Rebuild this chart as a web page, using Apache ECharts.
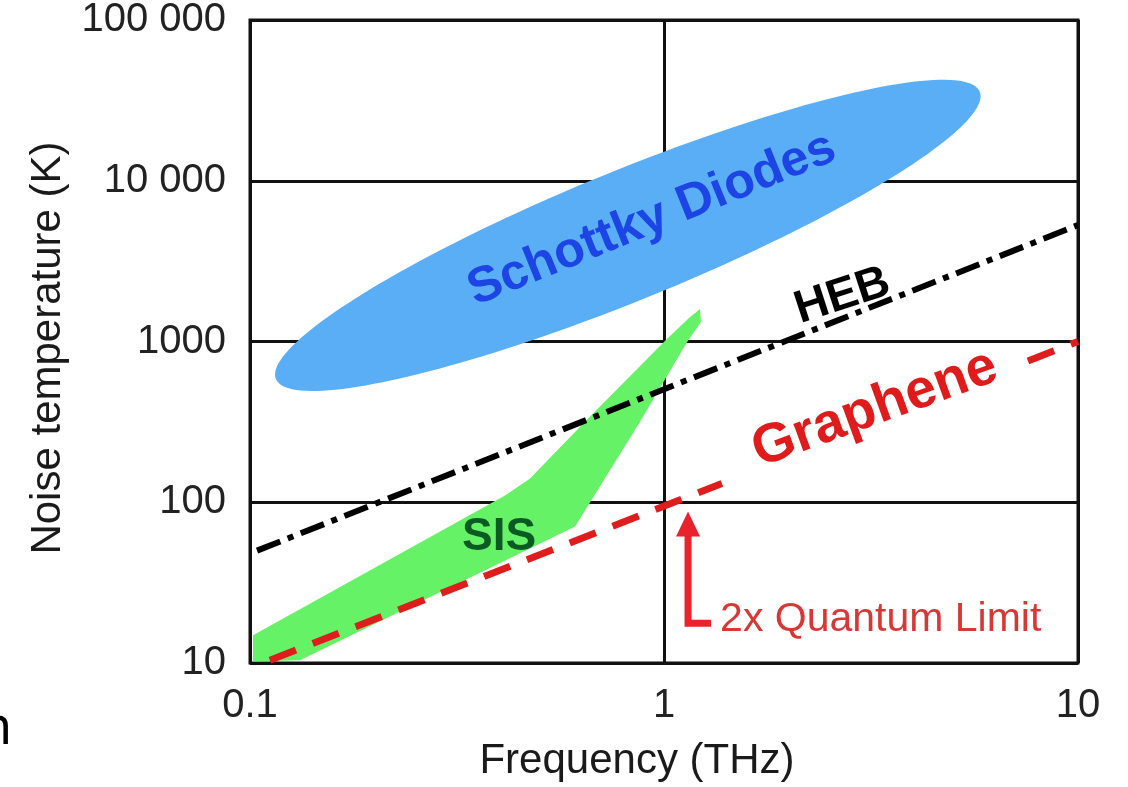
<!DOCTYPE html>
<html>
<head>
<meta charset="utf-8">
<script src="https://cdn.jsdelivr.net/npm/echarts@6/dist/echarts.min.js"></script>
<style>
html,body{margin:0;padding:0;background:#fff;}
#chart{width:1128px;height:787px;}
</style>
</head>
<body>
<div id="chart"></div>
<script>
// ---- data ----
const xTickLabels = ['0.1', '1', '10'];
const yTickLabels = ['10', '100', '1000', '10 000', '100 000'];

// HEB (dash-dot black line)
const hebFreq = [0.104, 10];
const hebTemp = [50, 5300];

// Graphene, 2x quantum limit (red dashed line, interrupted by its label)
const grapheneFreq = [0.1117, 1.38, 3, 7.57, 10];
const grapheneTemp = [10.4, 131, '-', 757, 1000];

// SIS region outline
const sisFreq = [0.1017, 0.413, 0.474, 0.662, 1.016, 1.156, 1.222, 1.228, 1.137, 0.875, 0.610, 0.132, 0.1017];
const sisTemp = [14.9, 110, 140, 340, 1037, 1419, 1591, 1321, 993, 317, 70.7, 10.4, 10.2];

// Schottky diodes ellipse: two ends of the long axis, then a point at the end of the short axis
const schottkyFreq = [0.1155, 5.79, 0.714];
const schottkyTemp = [585, 35770, 10800];

// 2x quantum limit arrow: foot end, corner, tip
const arrowFreq = [1.299, 1.143, 1.143];
const arrowTemp = [17.7, 17.7, 87.6];

// text annotations: label, frequency, temperature
const labelTexts = ['Schottky Diodes', 'HEB', 'Graphene', 'SIS', '2x Quantum Limit'];
const labelFreq = [0.935, 2.70, 3.233, 0.3995, 1.366];
const labelTemp = [5750, 1914, 381, 60.4, 18.6];

// ---- styling ----
const FONT = '"Liberation Sans", Arial, Helvetica, sans-serif';
const labelStyles = [
  {fill: '#1d44e4', fontSize: 50, fontWeight: 'bold', rot: 22, align: 'center'},
  {fill: '#000000', fontSize: 46, fontWeight: 'bold', rot: 18, align: 'center'},
  {fill: '#e01b1b', fontSize: 55, fontWeight: 'bold', rot: 20, align: 'center'},
  {fill: '#0b5a24', fontSize: 46, fontWeight: 'bold', rot: 0, align: 'center'},
  {fill: '#d93636', fontSize: 41, fontWeight: 'normal', rot: 0, align: 'left'}
];

const chart = echarts.init(document.getElementById('chart'), null, {renderer: 'canvas'});

function yLabel(v) {
  const i = Math.round(Math.log10(v)) - 1;
  return yTickLabels[i] !== undefined ? yTickLabels[i] : '';
}
function xLabel(v) {
  const i = Math.round(Math.log10(v)) + 1;
  return xTickLabels[i] !== undefined ? xTickLabels[i] : '';
}

const option = {
  animation: false,
  backgroundColor: '#ffffff',
  grid: {
    left: 250, right: 50, top: 20, bottom: 122,
    show: true, borderColor: '#111', borderWidth: 3, backgroundColor: 'transparent'
  },
  xAxis: {
    type: 'log', logBase: 10, min: 0.1, max: 10,
    name: 'Frequency (THz)', nameLocation: 'middle', nameGap: 77,
    nameTextStyle: {fontSize: 42, fontFamily: FONT, color: '#1a1a1a', padding: [0, 54, 0, 0]},
    axisLine: {show: false},
    axisTick: {show: false},
    axisLabel: {formatter: xLabel, fontSize: 40, fontFamily: FONT, color: '#222', margin: 23},
    splitLine: {show: true, lineStyle: {color: '#111', width: 3}}
  },
  yAxis: {
    type: 'log', logBase: 10, min: 10, max: 100000,
    name: 'Noise temperature (K)', nameLocation: 'middle', nameGap: 181,
    nameTextStyle: {fontSize: 42, fontFamily: FONT, color: '#1a1a1a', padding: [0, 13, 0, 0]},
    axisLine: {show: false},
    axisTick: {show: false},
    axisLabel: {formatter: yLabel, fontSize: 40, fontFamily: FONT, color: '#222', margin: 24},
    splitLine: {show: true, lineStyle: {color: '#111', width: 3}}
  },
  graphic: [
    {type: 'text', x: -20, y: 729, style: {text: 'n', fontSize: 52, fontFamily: '"Noto Sans", sans-serif', fill: '#000', verticalAlign: 'middle'}}
  ],
  series: [
    {
      name: 'Schottky Diodes', type: 'custom', coordinateSystem: 'cartesian2d',
      data: schottkyFreq.map((f, i) => [f, schottkyTemp[i]]),
      renderItem: function (params, api) {
        if (params.dataIndex !== 0) return null;
        const p1 = api.coord([schottkyFreq[0], schottkyTemp[0]]);
        const p2 = api.coord([schottkyFreq[1], schottkyTemp[1]]);
        const p3 = api.coord([schottkyFreq[2], schottkyTemp[2]]);
        const cx = (p1[0] + p2[0]) / 2, cy = (p1[1] + p2[1]) / 2;
        const ang = Math.atan2(p2[1] - p1[1], p2[0] - p1[0]);
        const a = Math.hypot(p2[0] - p1[0], p2[1] - p1[1]) / 2;
        const b = Math.abs(-(p3[0] - cx) * Math.sin(ang) + (p3[1] - cy) * Math.cos(ang));
        const pts = [];
        const n = 180;
        for (let k = 0; k < n; k++) {
          const t = k / n * 2 * Math.PI;
          const ex = a * Math.cos(t), ey = b * Math.sin(t);
          pts.push([cx + ex * Math.cos(ang) - ey * Math.sin(ang), cy + ex * Math.sin(ang) + ey * Math.cos(ang)]);
        }
        return {type: 'polygon', shape: {points: pts}, style: {fill: '#5aaef5'}};
      }
    },
    {
      name: 'SIS', type: 'custom', coordinateSystem: 'cartesian2d',
      data: sisFreq.map((f, i) => [f, sisTemp[i]]),
      renderItem: function (params, api) {
        if (params.dataIndex !== 0) return null;
        const pts = sisFreq.map((f, i) => api.coord([f, sisTemp[i]]));
        return {type: 'polygon', shape: {points: pts}, style: {fill: '#66f266'}};
      }
    },
    {
      name: 'HEB', type: 'line', showSymbol: false, symbol: 'none',
      data: hebFreq.map((f, i) => [f, hebTemp[i]]),
      lineStyle: {color: '#000', width: 6, type: [25, 8, 6, 8], cap: 'butt'}
    },
    {
      name: 'Graphene', type: 'line', showSymbol: false, symbol: 'none', connectNulls: false,
      data: grapheneFreq.map((f, i) => [f, grapheneTemp[i]]),
      lineStyle: {color: '#df1d1d', width: 7, type: [28, 18], cap: 'butt'}
    },
    {
      name: '2x Quantum Limit', type: 'custom', coordinateSystem: 'cartesian2d',
      data: arrowFreq.map((f, i) => [f, arrowTemp[i]]),
      renderItem: function (params, api) {
        if (params.dataIndex !== 0) return null;
        const foot = api.coord([arrowFreq[0], arrowTemp[0]]);
        const corner = api.coord([arrowFreq[1], arrowTemp[1]]);
        const tip = api.coord([arrowFreq[2], arrowTemp[2]]);
        const headLen = 25, headHalf = 12;
        return {
          type: 'group',
          children: [
            {type: 'polyline', shape: {points: [foot, corner, [corner[0], tip[1] + headLen - 2]]},
             style: {stroke: '#e8232b', lineWidth: 7, fill: null, lineJoin: 'miter', lineCap: 'butt'}},
            {type: 'polygon', shape: {points: [tip, [tip[0] - headHalf, tip[1] + headLen], [tip[0] + headHalf, tip[1] + headLen]]},
             style: {fill: '#e8232b'}}
          ]
        };
      }
    },
    {
      name: 'labels', type: 'custom', coordinateSystem: 'cartesian2d',
      data: labelFreq.map((f, i) => [f, labelTemp[i]]),
      renderItem: function (params, api) {
        const i = params.dataIndex;
        const p = api.coord([labelFreq[i], labelTemp[i]]);
        const s = labelStyles[i];
        return {
          type: 'text', x: p[0], y: p[1], rotation: s.rot * Math.PI / 180,
          style: {
            text: labelTexts[i], fill: s.fill, fontSize: s.fontSize, fontWeight: s.fontWeight,
            fontFamily: FONT, align: s.align, verticalAlign: 'middle'
          }
        };
      }
    }
  ]
};
chart.setOption(option);
</script>
</body>
</html>
